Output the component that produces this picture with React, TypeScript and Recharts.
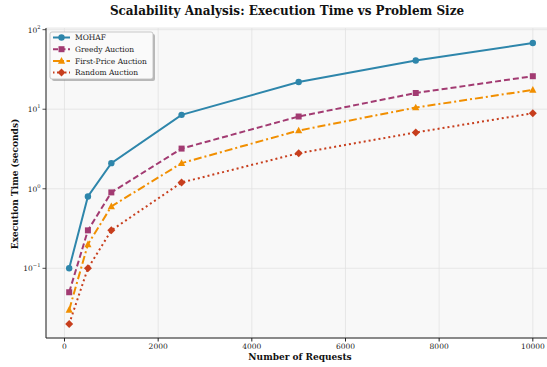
import { LineChart, Line, XAxis, YAxis, CartesianGrid } from 'recharts';

const requests = [100, 500, 1000, 2500, 5000, 7500, 10000];
const mohaf = [0.1, 0.8, 2.1, 8.5, 22, 41, 68];
const greedy = [0.05, 0.3, 0.9, 3.2, 8.1, 16, 26];
const firstPrice = [0.03, 0.2, 0.6, 2.1, 5.4, 10.5, 17.5];
const randomAuction = [0.02, 0.1, 0.3, 1.2, 2.8, 5.1, 8.9];

const xTicks = [0, 2000, 4000, 6000, 8000, 10000];
const yTicks = [0.1, 1, 10, 100];
const yExponents = ['\u22121', '0', '1', '2'];
const yMinorTicks = [
  0.02, 0.03, 0.04, 0.05, 0.06, 0.07, 0.08, 0.09,
  0.2, 0.3, 0.4, 0.5, 0.6, 0.7, 0.8, 0.9,
  2, 3, 4, 5, 6, 7, 8, 9,
  20, 30, 40, 50, 60, 70, 80, 90,
];

const data = requests.map((r, i) => ({
  requests: r,
  mohaf: mohaf[i],
  greedy: greedy[i],
  firstPrice: firstPrice[i],
  random: randomAuction[i],
}));

const FONT = '"DejaVu Serif", serif';
const BLUE = '#2E86AB';
const PURPLE = '#A23B72';
const ORANGE = '#F18F01';
const RED = '#C73E1D';

const Marker = ({ kind, cx, cy, color }: any) => {
  if (cx == null || cy == null) return null;
  if (kind === 'circle') return <circle cx={cx} cy={cy} r={3.2} fill={color} />;
  if (kind === 'square') return <rect x={cx - 3} y={cy - 3} width={6} height={6} fill={color} />;
  if (kind === 'triangle')
    return <polygon points={`${cx},${cy - 3.8} ${cx + 3.6},${cy + 2.8} ${cx - 3.6},${cy + 2.8}`} fill={color} />;
  return <polygon points={`${cx},${cy - 4} ${cx + 4},${cy} ${cx},${cy + 4} ${cx - 4},${cy}`} fill={color} />;
};

const YTick = ({ x, y, payload }: any) => {
  const idx = yTicks.indexOf(payload.value);
  return (
    <text x={x} y={y} dy={3} textAnchor="end" fontFamily={FONT} fontSize={7.5} fill="#222">
      10<tspan dy={-4} fontSize={5.2}>{yExponents[idx]}</tspan>
    </text>
  );
};

const legendItems = [
  { name: 'MOHAF', color: BLUE, kind: 'circle', dash: undefined },
  { name: 'Greedy Auction', color: PURPLE, kind: 'square', dash: '5 2.5' },
  { name: 'First-Price Auction', color: ORANGE, kind: 'triangle', dash: '7 2.5 1.5 2.5' },
  { name: 'Random Auction', color: RED, kind: 'diamond', dash: '1.5 2.5' },
];

export default function App() {
  return (
    <div style={{ position: 'absolute', left: 0, top: 0, width: 547, height: 367, overflow: 'hidden', background: '#fff' }}>
      <LineChart width={570} height={367} data={data} margin={{ top: 28, right: 14, left: 0, bottom: 0 }}>
        <CartesianGrid fill="#f8f8f8" stroke="#e2e2e2" strokeWidth={0.8} yAxisId="main" />
        <XAxis
          dataKey="requests"
          type="number"
          domain={[-395, 10495]}
          ticks={xTicks}
          height={29}
          tickSize={3.5}
          tickMargin={2}
          stroke="#222"
          tick={{ fontFamily: FONT, fontSize: 7.5, fill: '#222' }}
          axisLine={{ stroke: '#222', strokeWidth: 1 }}
        />
        <YAxis
          yAxisId="minor"
          scale="log"
          domain={[0.0133, 105]}
          allowDataOverflow
          ticks={yMinorTicks}
          width={0}
          tickSize={2}
          tick={false}
          axisLine={false}
          tickLine={{ stroke: '#222', strokeWidth: 0.7 }}
          type="number"
        />
        <YAxis
          yAxisId="main"
          scale="log"
          domain={[0.0133, 105]}
          allowDataOverflow
          ticks={yTicks}
          width={46}
          tickSize={3.5}
          tickMargin={2}
          type="number"
          tick={<YTick />}
          axisLine={{ stroke: '#222', strokeWidth: 1 }}
          tickLine={{ stroke: '#222', strokeWidth: 0.8 }}
        />
        <Line yAxisId="main" dataKey="mohaf" stroke={BLUE} strokeWidth={2} isAnimationActive={false}
          dot={(p: any) => <Marker key={p.index} kind="circle" cx={p.cx} cy={p.cy} color={BLUE} />} />
        <Line yAxisId="main" dataKey="greedy" stroke={PURPLE} strokeWidth={2} strokeDasharray="6 3" isAnimationActive={false}
          dot={(p: any) => <Marker key={p.index} kind="square" cx={p.cx} cy={p.cy} color={PURPLE} />} />
        <Line yAxisId="main" dataKey="firstPrice" stroke={ORANGE} strokeWidth={2} strokeDasharray="8 3 2 3" isAnimationActive={false}
          dot={(p: any) => <Marker key={p.index} kind="triangle" cx={p.cx} cy={p.cy} color={ORANGE} />} />
        <Line yAxisId="main" dataKey="random" stroke={RED} strokeWidth={2} strokeDasharray="2 3" isAnimationActive={false}
          dot={(p: any) => <Marker key={p.index} kind="diamond" cx={p.cx} cy={p.cy} color={RED} />} />
      </LineChart>
      <svg width={547} height={367} style={{ position: 'absolute', left: 0, top: 0, pointerEvents: 'none' }}>
        <text x={287} y={15} textAnchor="middle" fontFamily={FONT} fontWeight="bold" fontSize={12} fill="#111">
          Scalability Analysis: Execution Time vs Problem Size
        </text>
        <text x={300} y={360} textAnchor="middle" fontFamily={FONT} fontWeight="bold" fontSize={9} fill="#111">
          Number of Requests
        </text>
        <text transform="translate(18,184) rotate(-90)" textAnchor="middle" fontFamily={FONT} fontWeight="bold" fontSize={9} fill="#111">
          Execution Time (seconds)
        </text>
        <rect x={52} y={34} width={103} height={47} rx={2} fill="#777" opacity={0.5} />
        <rect x={50} y={32} width={103} height={47} rx={2} fill="#fafafa" stroke="#bbb" strokeWidth={0.8} />
        {legendItems.map((item, i) => {
          const y = 37.5 + i * 11.7;
          return (
            <g key={item.name}>
              <line x1={53} x2={70} y1={y} y2={y} stroke={item.color} strokeWidth={2} strokeDasharray={item.dash} />
              <Marker kind={item.kind} cx={61.5} cy={y} color={item.color} />
              <text x={75} y={y + 2.7} fontFamily={FONT} fontSize={7.5} fill="#222">{item.name}</text>
            </g>
          );
        })}
      </svg>
    </div>
  );
}
